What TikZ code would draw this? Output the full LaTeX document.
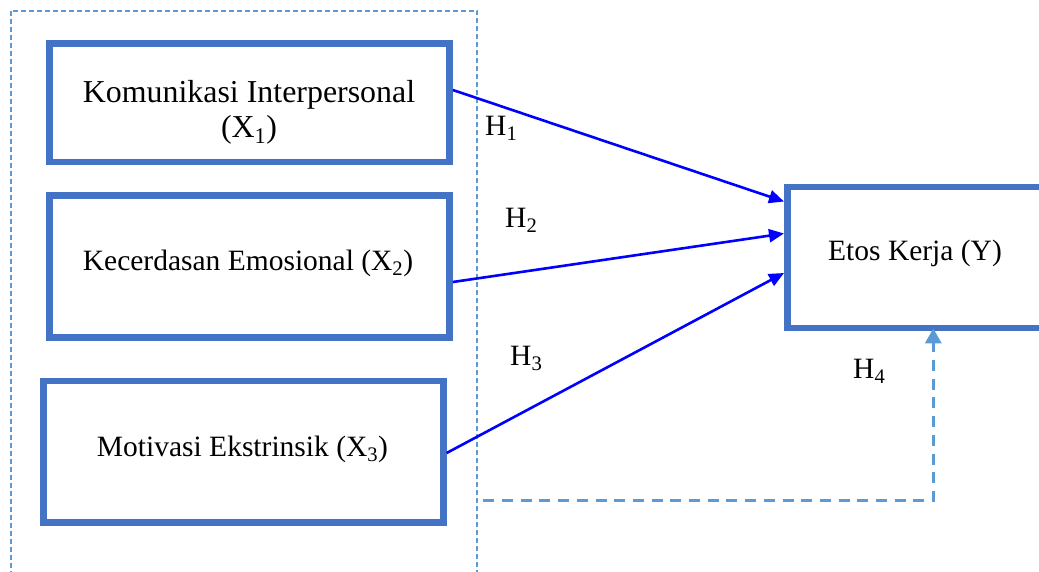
\documentclass[tikz,border=0pt]{standalone}
\usepackage{fontspec}
\setmainfont{Liberation Serif}
\usetikzlibrary{arrows.meta}
\definecolor{boxblue}{HTML}{4472C4}
\definecolor{dashblue}{HTML}{5B9BD5}
\definecolor{arrblue}{HTML}{0000FF}
\tikzset{
  varbox/.style={draw=boxblue, line width=6.7pt, rectangle, inner sep=0pt, fill=none},
  lbl/.style={inner sep=0pt, font=\fontsize{29.5}{32}\selectfont, text=black},
  lblbig/.style={inner sep=0pt, font=\fontsize{31.9}{35}\selectfont, text=black},
  hyp/.style={draw=arrblue, line width=2.6pt, -{Triangle[length=15pt,width=13pt]}},
  hypdash/.style={draw=dashblue, line width=3pt, dash pattern=on 11pt off 7.7pt, -{Triangle[length=15pt,width=16pt]}},
  groupbox/.style={draw=dashblue, line width=1.8pt, dash pattern=on 5pt off 3pt}
}
\begin{document}
\begin{tikzpicture}[x=1pt,y=-1pt]
\clip (0,0) rectangle (1039,571);
\fill[white] (0,0) rectangle (1039,571);
% group dashed box
\draw[groupbox] (11,11) rectangle (477.3,600);
% boxes
\node[varbox, minimum width=400pt, minimum height=118.3pt] (b1) at (249.5,102.9) {};
\node[varbox, minimum width=400.2pt, minimum height=141.6pt] (b2) at (249.4,266.5) {};
\node[varbox, minimum width=400pt, minimum height=141.3pt] (b3) at (243.3,451.7) {};
\node[varbox, minimum width=262.7pt, minimum height=141pt] (y) at (918.7,257.5) {};
% texts
\node[lblbig, anchor=base] (t1a) at (249,102) {Komunikasi Interpersonal};
\node[lblbig, anchor=base] (t1b) at (249,137.3) {(X\textsubscript{1})};
\node[lbl, anchor=base] (t2) at (248,270) {Kecerdasan Emosional (X\textsubscript{2})};
\node[lbl, anchor=base] (t3) at (242.5,456) {Motivasi Ekstrinsik (X\textsubscript{3})};
\node[lbl, anchor=base] (ty) at (915,260) {Etos Kerja (Y)};
% hypothesis labels
\node[lbl, anchor=base west] (h1) at (485,135) {H\textsubscript{1}};
\node[lbl, anchor=base west] (h2) at (505,227) {H\textsubscript{2}};
\node[lbl, anchor=base west] (h3) at (510,365) {H\textsubscript{3}};
\node[lbl, anchor=base west] (h4) at (853,378) {H\textsubscript{4}};
% arrows
\draw[hyp] ([yshift=12.9pt]b1.east) -- ([yshift=56pt]y.west);
\draw[hyp] ([yshift=-15.5pt]b2.east) -- ([yshift=24pt]y.west);
\draw[hyp] ([yshift=-1.3pt]b3.east) -- ([yshift=-15.5pt]y.west);
\coordinate (dstart) at (483.3,500.7);
\draw[hypdash] (dstart) -| ([xshift=14.6pt,yshift=3pt]y.south);
\end{tikzpicture}
\end{document}
